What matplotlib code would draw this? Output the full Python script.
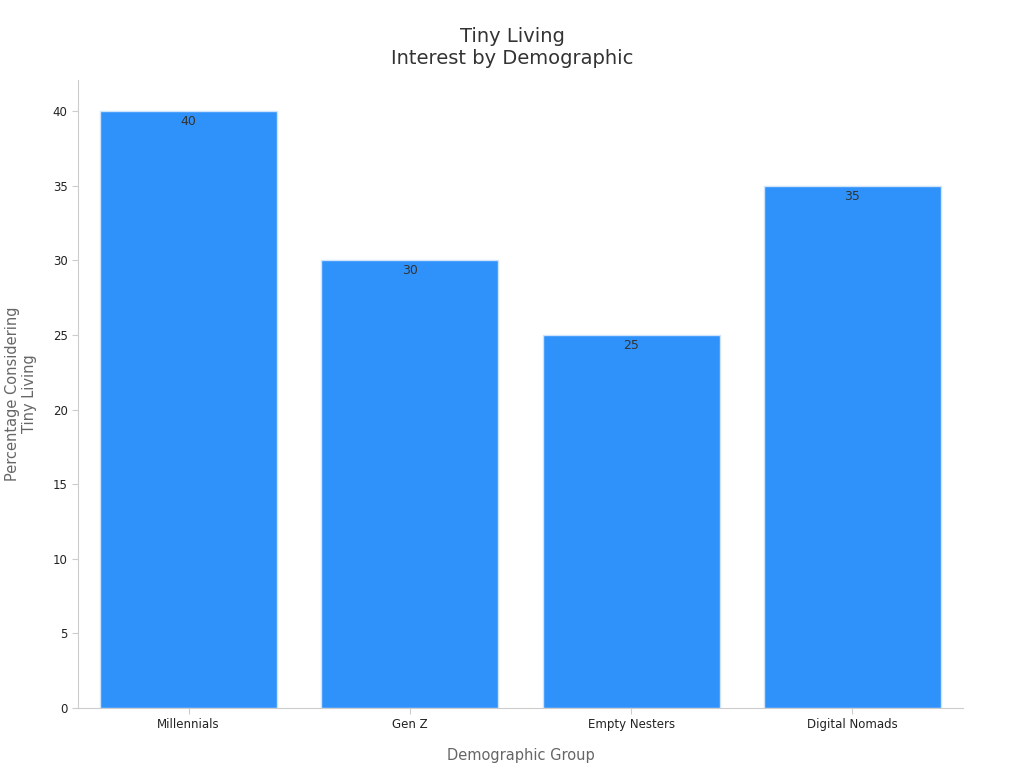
import matplotlib; matplotlib.use("Agg")
import matplotlib.pyplot as plt

groups = ["Millennials", "Gen Z", "Empty Nesters", "Digital Nomads"]
values = [40, 30, 25, 35]

fig = plt.figure(figsize=(10.24, 7.68), dpi=100)
ax = fig.add_axes([78/1024, 1-708/768, (963-78)/1024, (708-80)/768])
bars = ax.bar(range(len(groups)), values, width=0.8, color="#2f92fa",
              edgecolor="#cfe3fb", linewidth=1)
for b, v in zip(bars, values):
    ax.text(b.get_x() + b.get_width()/2, v - 0.25, f"{v}", ha="center", va="top",
            fontsize=9, color="#333333")
ax.set_xlim(-0.5, 3.5); ax.set_ylim(0, 42.1)
ax.set_xticks(range(len(groups))); ax.set_xticklabels(groups, fontsize=8.5, color="#222222")
ax.set_yticks(range(0, 41, 5))
ax.tick_params(axis="y", labelsize=8.5, labelcolor="#222222", color="#cccccc", length=4)
ax.tick_params(axis="x", color="#cccccc", length=4)
for s in ["top", "right"]: ax.spines[s].set_visible(False)
for s in ["left", "bottom"]: ax.spines[s].set_color("#cccccc")
ax.set_xlabel("Demographic Group", fontsize=10.5, color="#666666", labelpad=12)
ax.set_ylabel("Percentage Considering\nTiny Living", fontsize=10.5, color="#666666", labelpad=11)
fig.suptitle("Tiny Living\nInterest by Demographic", fontsize=14, color="#333333", y=0.965)
fig.savefig("out.png", dpi=100)
